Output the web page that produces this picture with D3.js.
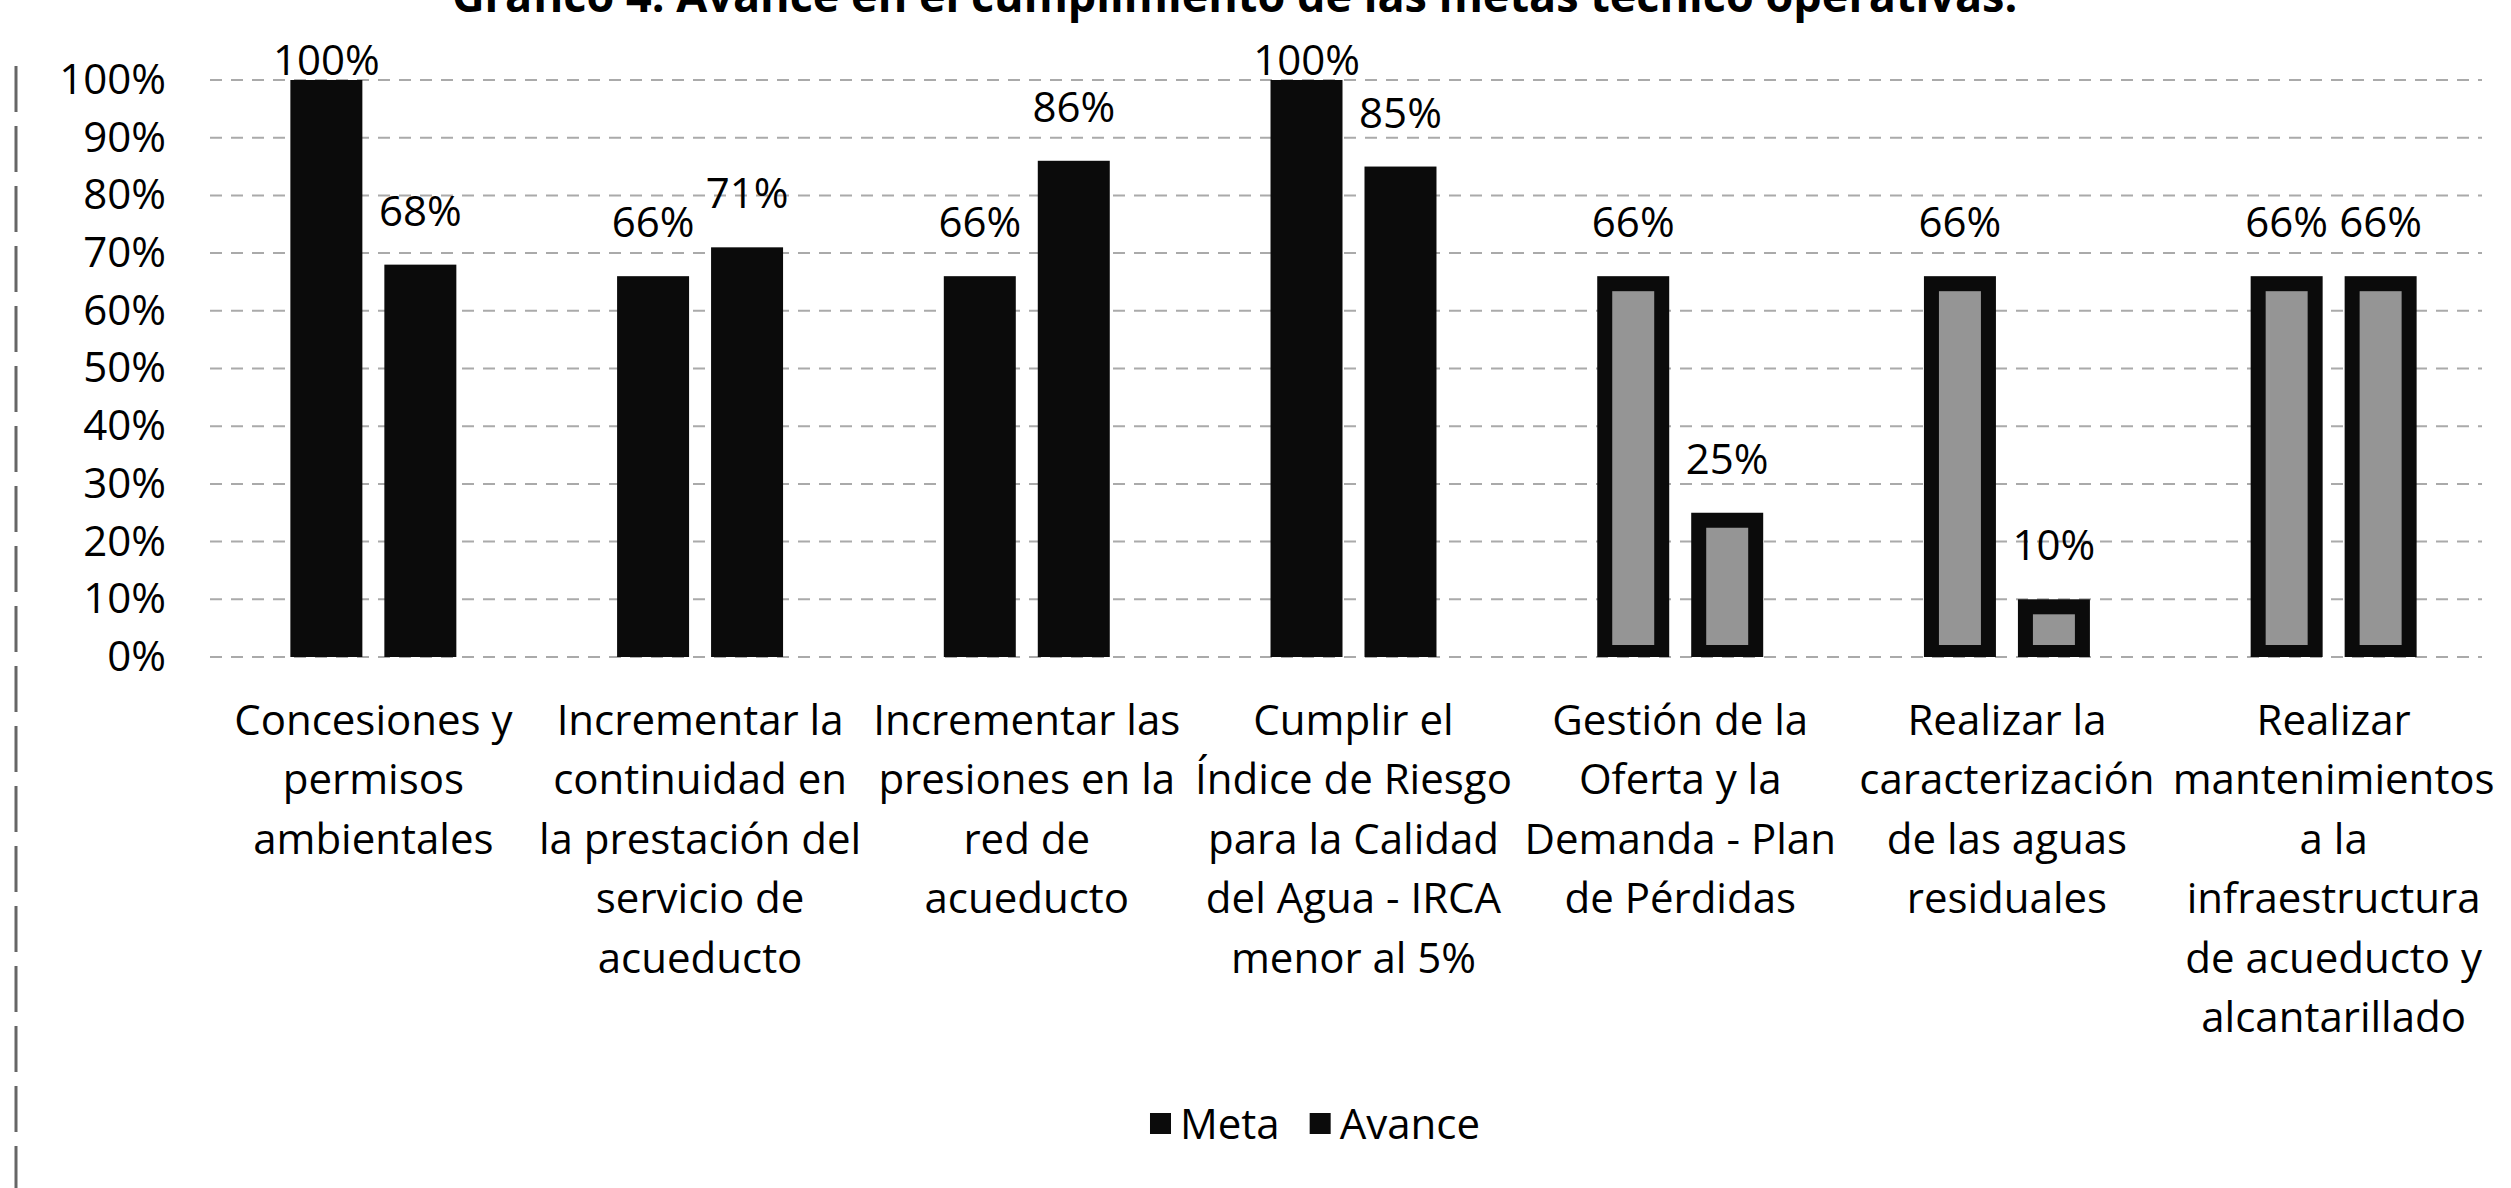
<!DOCTYPE html>
<meta charset="utf-8">
<style>
  body { margin: 0; background: #fff; }
  svg text { font-family: 'Open Sans', sans-serif; fill: #000; }
</style>
<body>
<div id="chart"></div>
<script src="https://cdn.jsdelivr.net/npm/d3@7"></script>
<script>

// data
var categories = [
  "Concesiones y permisos ambientales",
  "Incrementar la continuidad en la prestación del servicio de acueducto",
  "Incrementar las presiones en la red de acueducto",
  "Cumplir el Índice de Riesgo para la Calidad del Agua - IRCA menor al 5%",
  "Gestión de la Oferta y la Demanda - Plan de Pérdidas",
  "Realizar la caracterización de las aguas residuales",
  "Realizar mantenimientos a la infraestructura de acueducto y alcantarillado"
];
// line breaks as they appear under each group
var categoryLines = [
  ["Concesiones y", "permisos", "ambientales"],
  ["Incrementar la", "continuidad en", "la prestación del", "servicio de", "acueducto"],
  ["Incrementar las", "presiones en la", "red de", "acueducto"],
  ["Cumplir el", "Índice de Riesgo", "para la Calidad", "del Agua - IRCA", "menor al 5%"],
  ["Gestión de la", "Oferta y la", "Demanda - Plan", "de Pérdidas"],
  ["Realizar la", "caracterización", "de las aguas", "residuales"],
  ["Realizar", "mantenimientos", "a la", "infraestructura", "de acueducto y", "alcantarillado"]
];
var series = ["Meta", "Avance"];
var meta   = [1.00, 0.66, 0.66, 1.00, 0.66, 0.66, 0.66];
var avance = [0.68, 0.71, 0.86, 0.85, 0.25, 0.10, 0.66];
var title = "Gráfico 4. Avance en el cumplimiento de las metas técnico operativas.";

var width = 2511, height = 1188;

var svg = d3.select("#chart").append("svg")
  .attr("width", width)
  .attr("height", height);

var x0 = d3.scaleBand()
  .domain(categories)
  .range([210, 2497])
  .paddingInner(0.492)
  .paddingOuter(0.246);

var x1 = d3.scaleBand()
  .domain(series)
  .range([0, x0.bandwidth()])
  .paddingInner(0.234);

var y = d3.scaleLinear()
  .domain([0, 1])
  .range([657, 80]);

var pct = d3.format(".0%");

// scan border on the left
svg.append("line")
  .attr("x1", 16).attr("x2", 16)
  .attr("y1", 66).attr("y2", height)
  .style("stroke", "#666")
  .style("stroke-width", 3)
  .style("stroke-dasharray", "46,14");

// title (cut off at the top in the scan)
svg.append("text")
  .attr("x", 452)
  .attr("y", 12)
  .style("font-size", "45px")
  .style("font-weight", "bold")
  .text(title);

// gridlines
svg.append("g")
  .selectAll("line")
  .data(y.ticks(10))
  .enter()
  .append("line")
    .attr("x1", 210)
    .attr("x2", 2482)
    .attr("y1", function(d) { return y(d); })
    .attr("y2", function(d) { return y(d); })
    .style("stroke", "#aaa")
    .style("stroke-width", 2)
    .style("stroke-dasharray", "12,9");

// y axis labels
var yAxis = d3.axisLeft(y).ticks(10).tickFormat(pct).tickSize(0).tickPadding(0);
var gy = svg.append("g")
  .attr("transform", "translate(166,0)")
  .call(yAxis);
gy.select(".domain").remove();
gy.selectAll("text")
  .style("font-size", "42px")
  .style("font-family", "'Open Sans', sans-serif")
  .attr("fill", "#000");

// rows of bars
var rows = categories.map(function(c, i) {
  return { cat: c, i: i, values: [
    { key: "Meta", value: meta[i] },
    { key: "Avance", value: avance[i] }
  ] };
});

var groups = svg.append("g")
  .selectAll("g")
  .data(rows)
  .enter()
  .append("g")
    .attr("transform", function(d) { return "translate(" + x0(d.cat) + ",0)"; });

var bars = groups.selectAll("g.bar")
  .data(function(d) { return d.values.map(function(v) { return { key: v.key, value: v.value, i: d.i }; }); })
  .enter()
  .append("g")
    .attr("class", "bar");

bars.append("rect")
  .attr("x", function(d) { return x1(d.key); })
  .attr("y", function(d) { return y(d.value); })
  .attr("width", x1.bandwidth())
  .attr("height", function(d) { return y(0) - y(d.value); })
  .style("fill", "#0b0b0b");

// the last three groups came out lighter in the scan: grey core, black rim
var rim = 15;
bars.filter(function(d) { return d.i >= 4; })
  .append("rect")
    .attr("x", function(d) { return x1(d.key) + rim; })
    .attr("y", function(d) { return y(d.value) + rim; })
    .attr("width", x1.bandwidth() - 2 * rim)
    .attr("height", function(d) { return Math.max(0, y(0) - y(d.value) - 2 * rim + 3); })
    .style("fill", "#959595");

// value labels
bars.append("text")
  .attr("x", function(d) { return x1(d.key) + x1.bandwidth() / 2; })
  .attr("y", function(d) { return Math.max(y(d.value) - 39, y(1) - 5); })
  .attr("text-anchor", "middle")
  .style("font-size", "42px")
  .text(function(d) { return pct(d.value); });

// category labels
groups.append("text")
  .attr("text-anchor", "middle")
  .style("font-size", "42px")
  .selectAll("tspan")
  .data(function(d) { return categoryLines[d.i]; })
  .enter()
  .append("tspan")
    .attr("x", x0.bandwidth() / 2)
    .attr("y", function(d, k) { return 735 + k * 59.4; })
    .text(function(d) { return d; });

// legend
var legend = svg.append("g");
var lx = 0;
series.forEach(function(s, k) {
  var item = legend.append("g").attr("transform", "translate(" + lx + ",0)");
  item.append("rect")
    .attr("x", 0).attr("y", -26)
    .attr("width", 21).attr("height", 21)
    .style("fill", "#0b0b0b");
  var t = item.append("text")
    .attr("x", 30).attr("y", 0)
    .style("font-size", "42px")
    .text(s);
  lx += 30 + t.node().getComputedTextLength() + 30;
});
var lw = lx - 30;
legend.attr("transform", "translate(" + (1315 - lw / 2) + ",1139)");

</script>
</body>
